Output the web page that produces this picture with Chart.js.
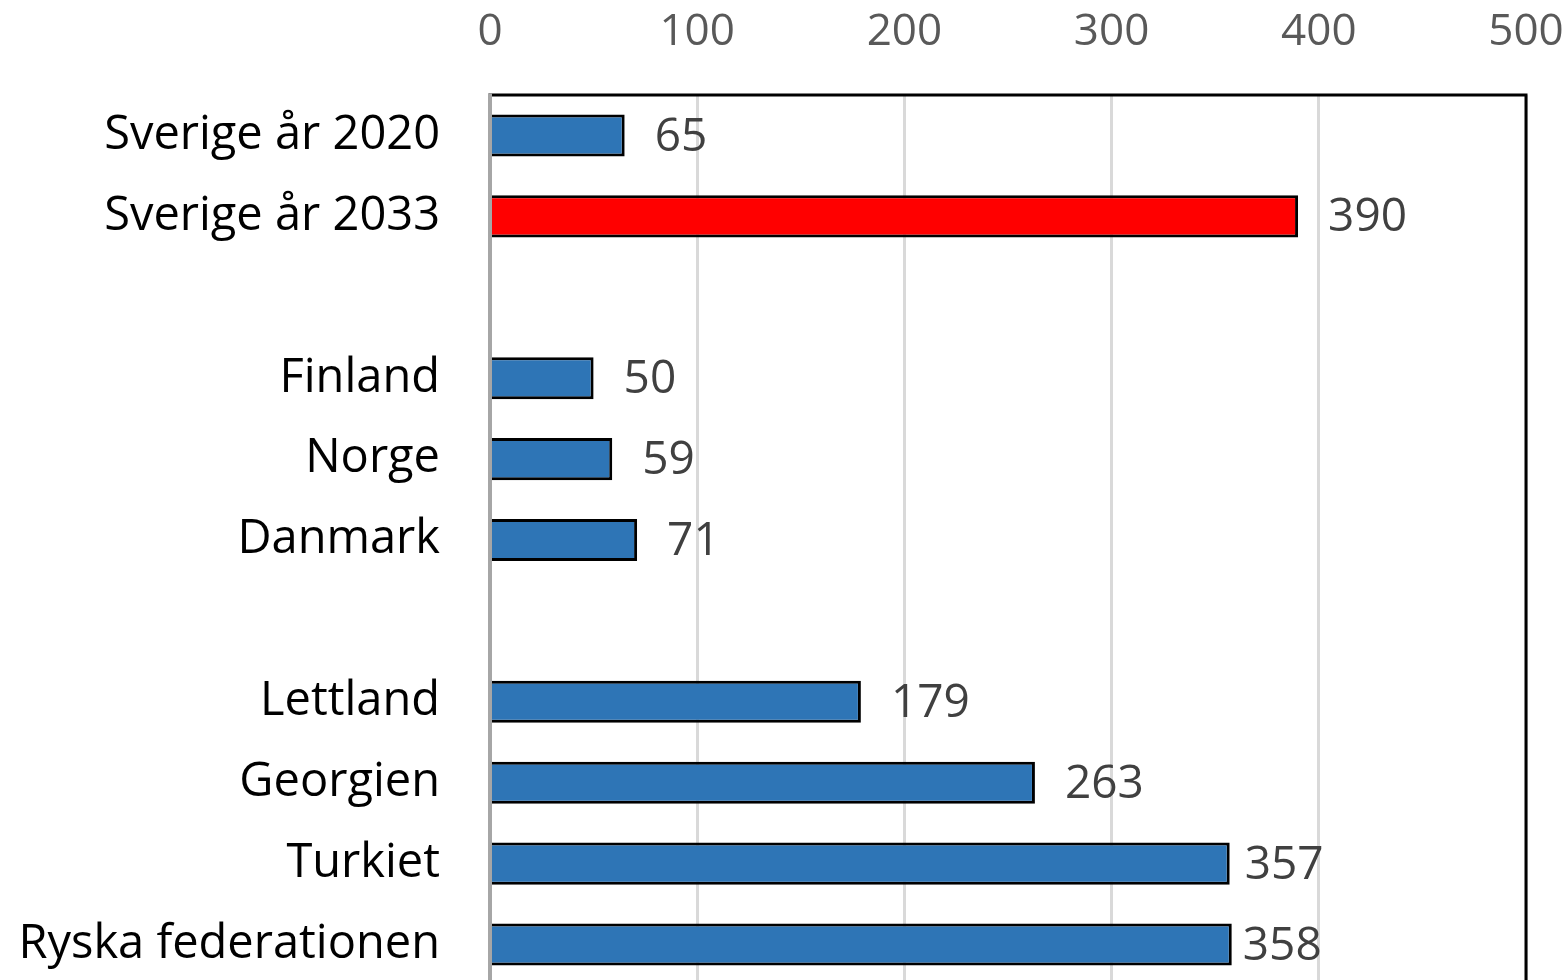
<!DOCTYPE html>
<html>
<head>
<meta charset="utf-8">
<script src="https://cdn.jsdelivr.net/npm/chart.js@4.4.1/dist/chart.umd.min.js"></script>
<style>
  html, body { margin: 0; padding: 0; background: #fff; overflow: hidden; }
  canvas { display: block; }
</style>
</head>
<body>
<canvas id="myChart" width="1568" height="1000"></canvas>
<script>
const categories = ['Sverige år 2020', 'Sverige år 2033', '', 'Finland', 'Norge', 'Danmark', '', 'Lettland', 'Georgien', 'Turkiet', 'Ryska federationen'];
const values = [65, 390, null, 50, 59, 71, null, 179, 263, 357, 358];
const xTicks = [0, 100, 200, 300, 400, 500];

const barColors = values.map((v, i) => i === 1 ? '#FF0000' : '#2E75B6');
// label gap after bar end (px), the last two sit closer in the original
const labelGap = [30, 30, 0, 30, 30, 30, 0, 30, 30, 15, 11];

const frameAndLabels = {
  id: 'frameAndLabels',
  afterDatasetsDraw(chart) {
    const ctx = chart.ctx;
    const a = chart.chartArea;
    ctx.save();
    ctx.strokeStyle = '#000000';
    ctx.lineWidth = 3;
    ctx.strokeRect(a.left, a.top, a.right - a.left, a.bottom - a.top);
    ctx.strokeStyle = '#A6A6A6';
    ctx.lineWidth = 4;
    ctx.beginPath();
    ctx.moveTo(a.left, a.top - 1.5);
    ctx.lineTo(a.left, a.bottom + 2);
    ctx.stroke();

    const meta = chart.getDatasetMeta(0);
    ctx.fillStyle = '#404040';
    ctx.font = '46px "Open Sans"';
    ctx.textBaseline = 'middle';
    ctx.textAlign = 'left';
    meta.data.forEach((bar, i) => {
      if (values[i] == null) return;
      ctx.fillText(String(values[i]), bar.x + labelGap[i], bar.y + 2);
    });
    ctx.restore();
  }
};

const ctx = document.getElementById('myChart');

const myChart = new Chart(ctx, {
  type: 'bar',
  data: {
    labels: categories,
    datasets: [{
      data: values,
      backgroundColor: barColors,
      borderColor: '#000000',
      borderWidth: 3,
      borderSkipped: 'left',
      barPercentage: 0.52,
      categoryPercentage: 1
    }]
  },
  plugins: [frameAndLabels],
  options: {
    indexAxis: 'y',
    responsive: false,
    animation: false,
    devicePixelRatio: 1,
    layout: { padding: { left: 0, right: 42, top: 0, bottom: 15 } },
    plugins: {
      legend: { display: false },
      tooltip: { enabled: false }
    },
    scales: {
      x: {
        position: 'top',
        min: 0,
        max: 500,
        afterBuildTicks(scale) {
          scale.ticks = xTicks.map(v => ({ value: v }));
        },
        afterFit(scale) {
          scale.height = 95;
          scale.paddingLeft = 0;
          scale.paddingRight = 0;
        },
        border: { display: false },
        grid: { color: '#D9D9D9', lineWidth: 3, drawTicks: false },
        ticks: {
          color: '#595959',
          font: { family: 'Open Sans', size: 44 },
          padding: 36
        }
      },
      y: {
        afterFit(scale) {
          scale.width = 490;
          scale.paddingTop = 0;
          scale.paddingBottom = 0;
        },
        border: { display: false },
        grid: { display: false, drawTicks: false },
        ticks: {
          color: '#000000',
          font: { family: 'Open Sans', size: 47 },
          padding: 50
        }
      }
    }
  }
});
</script>
</body>
</html>
